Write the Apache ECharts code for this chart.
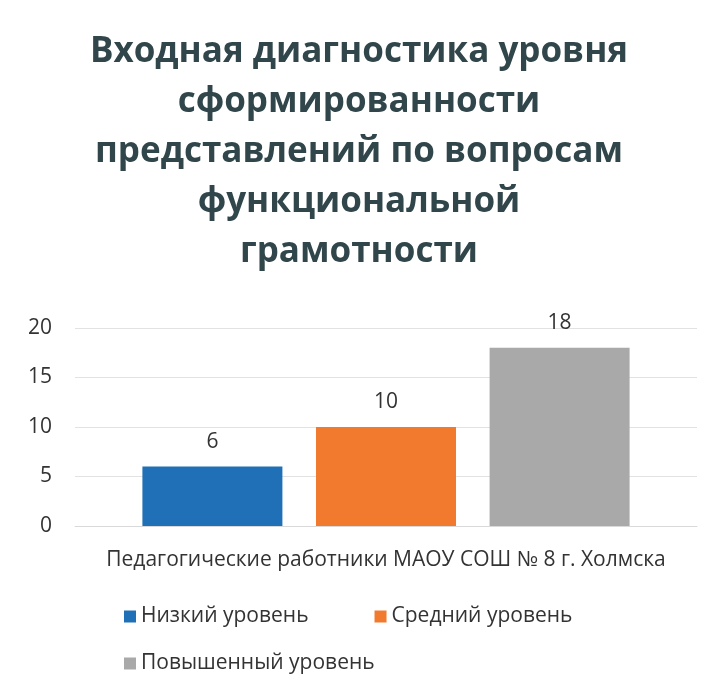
<!DOCTYPE html>
<html><head><meta charset="utf-8">
<script src="https://cdn.jsdelivr.net/npm/echarts@6/dist/echarts.min.js"></script>
<style>html,body{margin:0;padding:0;background:#fff}#c{width:712px;height:693px}</style>
</head><body><div id="c"></div>
<script>
const titleLines = ['Входная диагностика уровня','сформированности','представлений по вопросам','функциональной','грамотности'];
const categories = ['Педагогические работники МАОУ СОШ № 8 г. Холмска'];
const seriesNames = ['Низкий уровень','Средний уровень','Повышенный уровень'];
const seriesValues = [[6],[10],[18]];
const seriesColors = ['#1f70b6','#f27a2e','#a9a9a9'];
const yTicks = {min:0, max:20, interval:5};

const FONT = '"Open Sans",sans-serif';
const chart = echarts.init(document.getElementById('c'));
chart.setOption({
  backgroundColor:'#fff',
  animation:false,
  title:{
    text: titleLines.join('\n'),
    left:354, top:22,
    textAlign:'center',
    textStyle:{fontFamily:FONT,fontWeight:'bold',fontSize:35,lineHeight:50,color:'#30464b'}
  },
  legend:[
    {data:[seriesNames[0],seriesNames[1]],left:119,top:601,itemWidth:12,itemHeight:12,itemGap:66,icon:'rect',
     textStyle:{fontFamily:FONT,fontSize:21,color:'#333'}},
    {data:[seriesNames[2]],left:119,top:648,itemWidth:12,itemHeight:12,icon:'rect',
     textStyle:{fontFamily:FONT,fontSize:21,color:'#333'}}
  ],
  grid:{left:75,right:15,top:328,height:198,containLabel:false},
  xAxis:{type:'category',data:categories,
    axisLine:{lineStyle:{color:'#d9d9d9'}},axisTick:{show:false},
    axisLabel:{fontFamily:FONT,fontSize:21,color:'#333',margin:24}},
  yAxis:{type:'value',min:yTicks.min,max:yTicks.max,interval:yTicks.interval,
    axisLine:{show:false},axisTick:{show:false},
    splitLine:{lineStyle:{color:'#e2e2e2'}},
    axisLabel:{fontFamily:FONT,fontSize:21,color:'#333',margin:23}},
  series: seriesNames.map((n,i)=>({
    name:n,type:'bar',data:seriesValues[i],barWidth:140,barGap:'24%',
    itemStyle:{color:seriesColors[i]},
    label:{show:true,position:'top',distance:14,fontFamily:FONT,fontSize:21,color:'#333'}
  }))
});
</script></body></html>
